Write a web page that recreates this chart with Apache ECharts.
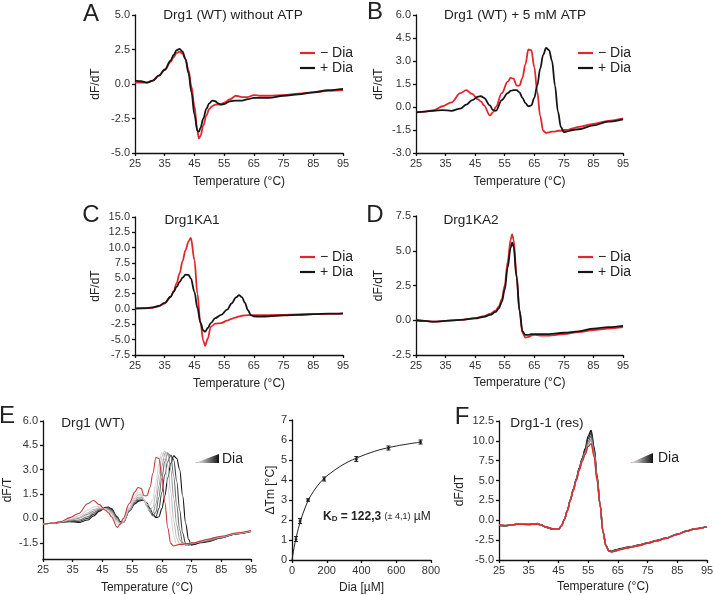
<!DOCTYPE html>
<html><head><meta charset="utf-8">
<script src="https://cdn.jsdelivr.net/npm/echarts@6.0.0/dist/echarts.min.js"></script>
<style>html,body{margin:0;padding:0;background:#fff}#c{width:713px;height:595px}</style>
</head><body><div id="c"></div>
<script>
// ---------- data ----------
const tempTicks = [25,35,45,55,65,75,85,95];
const eTicksY = [-1.5,0,1.5,3,4.5,6];

const tempA = [25,27,29,31,33,35,37,38,39,40,41,42,43,44,45,46,46.5,47,48,49,50,51,52,53,54,55,57,59,61,63,65,67,70,75,80,85,90,95];
const aMinus = [0.1,0.1,0.1,0.25,0.6,1.0,1.6,1.95,2.25,2.35,2.2,1.8,1.0,-0.2,-1.6,-3.4,-3.95,-3.8,-3.0,-2.3,-1.8,-1.6,-1.5,-1.5,-1.45,-1.35,-1.1,-0.85,-0.95,-0.95,-0.8,-0.85,-0.85,-0.8,-0.7,-0.6,-0.5,-0.45];
const aPlus = [0.25,0.2,0.1,0.25,0.6,1.05,1.7,2.1,2.45,2.55,2.35,1.8,0.8,-0.6,-2.2,-3.4,-3.45,-3.2,-2.5,-1.8,-1.4,-1.2,-1.25,-1.4,-1.5,-1.45,-1.25,-1.2,-1.2,-1.1,-1.0,-1.0,-1.0,-0.85,-0.75,-0.6,-0.45,-0.35];

const tempE = [25,28,31,34,37,40,42,44,46,47,48,50,51,52,54,56,57,58,59,60,61,62,63,64,65,66,67,68,69,70,71,72,73,74,75,76,78,80,85,90,95];
const eRed = [-0.35,-0.3,-0.2,0.05,0.3,0.9,1.1,0.85,0.5,0.35,0.1,-0.55,-0.35,0.0,0.9,1.65,1.9,1.85,1.4,1.4,1.9,2.8,3.75,3.7,2.6,1.0,-0.6,-1.55,-1.7,-1.65,-1.6,-1.6,-1.55,-1.55,-1.5,-1.5,-1.4,-1.3,-1.1,-0.9,-0.75];
const eG1 = [-0.35,-0.3,-0.2,0.0,0.15,0.5,0.7,0.75,0.55,0.4,0.2,-0.35,-0.35,-0.1,0.7,1.4,1.6,1.55,1.2,0.85,0.8,1.2,2.2,3.4,4.05,3.6,2.0,0.2,-1.1,-1.6,-1.6,-1.6,-1.55,-1.55,-1.5,-1.5,-1.4,-1.3,-1.1,-0.9,-0.75];
const eG2 = [-0.35,-0.3,-0.2,-0.05,0.05,0.35,0.55,0.65,0.6,0.5,0.3,-0.2,-0.35,-0.2,0.6,1.25,1.45,1.45,1.15,0.7,0.5,0.7,1.5,2.7,3.8,4.15,3.3,1.6,-0.2,-1.2,-1.6,-1.6,-1.55,-1.55,-1.5,-1.5,-1.42,-1.32,-1.12,-0.92,-0.77];
const eG3 = [-0.35,-0.3,-0.22,-0.1,0.0,0.25,0.45,0.6,0.6,0.55,0.4,-0.1,-0.3,-0.25,0.5,1.1,1.3,1.3,1.15,0.75,0.4,0.35,0.9,2.0,3.2,4.0,4.05,3.0,1.2,-0.4,-1.3,-1.6,-1.6,-1.55,-1.5,-1.5,-1.43,-1.35,-1.15,-0.92,-0.78];
const eG4 = [-0.35,-0.3,-0.23,-0.15,-0.1,0.1,0.35,0.55,0.62,0.6,0.48,0.0,-0.25,-0.25,0.45,1.0,1.2,1.2,1.1,0.8,0.4,0.15,0.4,1.3,2.5,3.5,4.0,3.85,2.6,0.8,-0.7,-1.5,-1.65,-1.6,-1.55,-1.5,-1.45,-1.38,-1.17,-0.94,-0.79];
const eG5 = [-0.35,-0.3,-0.24,-0.18,-0.18,0.0,0.25,0.5,0.65,0.65,0.55,0.05,-0.22,-0.25,0.45,0.95,1.1,1.15,1.1,0.9,0.5,0.2,0.1,0.6,1.6,2.7,3.5,3.9,3.6,2.3,0.5,-0.9,-1.55,-1.65,-1.6,-1.55,-1.48,-1.42,-1.19,-0.95,-0.8];
const eBlack = [-0.35,-0.3,-0.25,-0.2,-0.25,-0.1,0.15,0.45,0.68,0.7,0.6,0.1,-0.2,-0.25,0.45,0.9,1.05,1.1,1.1,0.95,0.6,0.25,0.05,0.1,0.6,1.4,2.5,3.4,3.85,3.7,3.0,1.4,-0.3,-1.3,-1.65,-1.6,-1.5,-1.45,-1.2,-0.95,-0.8];

const tempC = [25,28,31,33,35,37,38,39,40,41,42,43,43.8,45,46,47,48,48.6,49.5,50.5,52,54,56,57.5,59,60,61,62,63,64,65,67,70,75,80,85,90,95];
const cMinus = [0.05,0.1,0.2,0.45,0.9,2.0,2.9,4.2,5.8,7.8,9.6,11.0,11.6,8.0,2.5,-2.2,-5.2,-6.0,-4.8,-2.9,-2.4,-2.3,-1.9,-1.6,-1.35,-1.2,-1.1,-1.05,-1.0,-1.0,-1.0,-1.0,-1.0,-0.95,-0.9,-0.85,-0.8,-0.75];
const cPlus = [0.1,0.15,0.25,0.5,1.0,2.0,2.8,3.6,4.4,5.1,5.6,5.55,5.0,2.8,0.2,-2.2,-3.5,-3.7,-3.1,-2.3,-1.5,-0.95,-0.1,0.9,1.9,2.25,1.95,1.0,-0.2,-1.0,-1.2,-1.25,-1.2,-1.05,-0.95,-0.85,-0.75,-0.7];

const tempD = [25,28,31,35,40,45,48,50,52,53,54,55,56,57,57.5,58,59,60,61,62,63,64,65,67,70,75,80,85,90,95];
const dMinus = [0.0,-0.05,-0.1,-0.05,0.02,0.15,0.3,0.45,0.7,1.0,1.5,2.5,4.2,5.8,6.2,5.8,3.3,0.7,-0.9,-1.25,-1.2,-1.1,-1.05,-1.1,-1.1,-1.0,-0.85,-0.7,-0.6,-0.5];
const dPlus = [0.0,-0.05,-0.1,-0.05,0.02,0.13,0.25,0.38,0.6,0.85,1.3,2.2,3.8,5.2,5.6,5.3,3.1,0.7,-0.8,-1.05,-1.05,-1.0,-1.0,-1.0,-1.0,-0.9,-0.8,-0.6,-0.5,-0.4];

const tempF = [25,27,29,31,33,35,37,38,39,41,43,45,46,47,48,49,50,51,52,53,54,55,56,57,58,59,60,61,62,63,64,66,68,70,72,75,78,81,85,88,91,95];
const fRed = [-0.55,-0.65,-0.6,-0.5,-0.5,-0.5,-0.5,-0.5,-0.6,-0.85,-1.05,-1.1,-0.7,0.1,1.2,2.5,3.7,5.0,6.3,7.4,8.3,9.3,9.65,8.0,5.0,2.0,-1.4,-3.2,-3.9,-4.0,-3.9,-3.7,-3.5,-3.35,-3.2,-2.9,-2.6,-2.3,-1.8,-1.4,-1.1,-0.8];
const fG3 = [-0.58,-0.66,-0.6,-0.5,-0.5,-0.51,-0.49,-0.47,-0.59,-0.86,-1.06,-1.11,-0.71,0.1,1.2,2.5,3.75,5.05,6.35,7.5,8.45,9.6,10.2,8.4,5.2,2.0,-1.42,-3.2,-3.89,-3.98,-3.86,-3.66,-3.48,-3.34,-3.18,-2.89,-2.59,-2.29,-1.79,-1.39,-1.09,-0.8];
const fG2 = [-0.6,-0.67,-0.6,-0.5,-0.5,-0.52,-0.48,-0.45,-0.58,-0.87,-1.07,-1.12,-0.72,0.1,1.2,2.55,3.8,5.1,6.4,7.6,8.6,9.9,10.6,8.7,5.3,2.0,-1.45,-3.2,-3.88,-3.96,-3.82,-3.63,-3.46,-3.32,-3.15,-2.88,-2.58,-2.28,-1.78,-1.38,-1.08,-0.8];
const fG1 = [-0.62,-0.68,-0.6,-0.5,-0.5,-0.53,-0.47,-0.43,-0.57,-0.88,-1.08,-1.13,-0.73,0.1,1.2,2.55,3.85,5.15,6.5,7.7,8.8,10.3,11.0,9.0,5.5,2.0,-1.5,-3.2,-3.87,-3.93,-3.78,-3.6,-3.43,-3.3,-3.12,-2.86,-2.56,-2.26,-1.76,-1.36,-1.06,-0.8];
const fBlack = [-0.65,-0.7,-0.6,-0.5,-0.5,-0.55,-0.45,-0.4,-0.55,-0.9,-1.1,-1.15,-0.75,0.1,1.2,2.6,3.9,5.2,6.6,7.8,9.0,10.6,11.3,9.2,5.6,2.0,-1.5,-3.2,-3.85,-3.9,-3.75,-3.55,-3.4,-3.3,-3.1,-2.85,-2.55,-2.25,-1.75,-1.35,-1.05,-0.8];

const kdConc = [23.1,46.3,92.5,185,370,555,740];
const kdDeltaTm = [1.05,1.95,3.0,4.05,5.05,5.6,5.9];
const kdErr = [0.12,0.12,0.06,0.1,0.12,0.1,0.1];
const fitConc = [0,5,12,25,50,75,100,150,200,300,400,500,600,740];
const fitDeltaTm = [0,0.27,0.62,1.17,1.99,2.6,3.1,3.75,4.2,4.8,5.2,5.5,5.7,5.9];

// ---------- helpers ----------
const FONT = 'Liberation Sans, Arial, sans-serif';
const RED = '#e3262c', BLK = '#151515';
function pairs(t, v){ return t.map((x,i)=>[x, v[i]]); }
function axisBase(){
  return {
    type:'value',
    splitLine:{show:false},
    axisLine:{show:true,onZero:false,lineStyle:{color:'#111',width:1.3}},
    axisTick:{show:true,inside:false,length:3,lineStyle:{color:'#111',width:1.3}},
    axisLabel:{color:'#333',fontSize:11,margin:5,fontFamily:FONT},
    nameLocation:'middle',
    nameTextStyle:{color:'#222',fontSize:12,fontFamily:FONT}
  };
}
function tempAxis(g, gap){
  const a = axisBase();
  a.gridIndex = g; a.min = 25; a.max = 95;
  a.name = 'Temperature (°C)'; a.nameGap = gap;
  a.axisTick.customValues = tempTicks;
  a.axisLabel.customValues = tempTicks;
  return a;
}
function valAxis(g, min, max, interval, name, gap, dec){
  const a = axisBase();
  a.gridIndex = g; a.min = min; a.max = max; a.interval = interval;
  a.name = name; a.nameGap = gap;
  a.axisLabel.formatter = v => v.toFixed(dec);
  return a;
}
function line(name, t, v, idx, color, width, z){
  return {type:'line', name, xAxisIndex:idx, yAxisIndex:idx, data:pairs(t,v),
    symbol:'none', smooth:0.35, smoothMonotone:'x', silent:true, z:z||2,
    lineStyle:{color, width}, itemStyle:{color}, emphasis:{disabled:true}};
}
function legendAt(left, top){
  return {left, top, orient:'vertical', icon:'rect', itemWidth:15, itemHeight:2.2,
    itemGap:1, selectedMode:false, data:['− Dia','+ Dia'],
    textStyle:{fontSize:14, color:'#222', fontFamily:FONT, padding:[0,0,0,0]}};
}
function txt(x, y, text, size, align){
  return {type:'text', silent:true, style:{x, y, text, font: size+'px '+FONT, fill:'#222',
    textAlign:align||'center', textVerticalAlign:'middle'}};
}
function wedge(x0, x1, yTop, yBot){
  return {type:'polygon', silent:true, shape:{points:[[x0,yBot],[x1,yTop],[x1,yBot]]},
    style:{fill:new echarts.graphic.LinearGradient(0,0,1,0,[
      {offset:0,color:'#d8262c'},{offset:0.12,color:'#e8c8c8'},{offset:0.3,color:'#bdbdbd'},{offset:1,color:'#111'}])}};
}

const grids = [
  {left:135, top:15, width:208, height:138},
  {left:416, top:15, width:207, height:138},
  {left:135, top:217, width:208, height:138},
  {left:416, top:216, width:207, height:139},
  {left:43, top:421, width:208, height:138},
  {left:292, top:420, width:139, height:140},
  {left:499, top:421, width:208, height:139}
].map(g => Object.assign(g, {containLabel:false, outerBoundsMode:'none'}));

const xAxes = [
  tempAxis(0, 23), tempAxis(1, 23), tempAxis(2, 23), tempAxis(3, 22), tempAxis(4, 23),
  valAxis(5, 0, 800, 200, 'Dia [µM]', 22, 0),
  tempAxis(6, 21)
];
const yE = valAxis(4, -2.5, 6, 1.5, 'dF/T', 29, 1);
yE.axisTick.customValues = eTicksY; yE.axisLabel.customValues = eTicksY;
const yAxes = [
  valAxis(0, -5, 5, 2.5, 'dF/dT', 33, 1),
  valAxis(1, -3, 6, 1.5, 'dF/dT', 31, 1),
  valAxis(2, -7.5, 15, 2.5, 'dF/dT', 33, 1),
  valAxis(3, -2.5, 7.5, 2.5, 'dF/dT', 31, 1),
  yE,
  valAxis(5, 0, 7, 1, 'ΔTm [°C]', 10, 0),
  valAxis(6, -5, 12.5, 2.5, 'dF/dT', 33, 1)
];

const series = [
  line('− Dia', tempA, aMinus, 0, RED, 1.8, 2),
  line('+ Dia', tempA, aPlus, 0, BLK, 1.8, 3),
  line('− Dia', tempE, eRed, 1, RED, 1.8, 2),
  line('+ Dia', tempE, eBlack, 1, BLK, 1.8, 3),
  line('− Dia', tempC, cMinus, 2, RED, 1.8, 2),
  line('+ Dia', tempC, cPlus, 2, BLK, 1.8, 3),
  line('− Dia', tempD, dMinus, 3, RED, 1.8, 2),
  line('+ Dia', tempD, dPlus, 3, BLK, 1.8, 3),
  line('E6', tempE, eBlack, 4, '#111', 1.1, 2),
  line('E5', tempE, eG5, 4, '#3e3e3e', 1.1, 2),
  line('E4', tempE, eG4, 4, '#6e6e6e', 1.1, 2),
  line('E3', tempE, eG3, 4, '#9a9a9a', 1.1, 2),
  line('E2', tempE, eG2, 4, '#bdbdbd', 1.1, 2),
  line('E1', tempE, eG1, 4, '#d6d6d6', 1.1, 2),
  line('E0', tempE, eRed, 4, '#c8343a', 1.1, 3),
  {type:'line', name:'fit', xAxisIndex:5, yAxisIndex:5, data:pairs(fitConc, fitDeltaTm),
    symbol:'none', smooth:0.3, silent:true, lineStyle:{color:'#222', width:1}},
  {type:'custom', name:'err', xAxisIndex:5, yAxisIndex:5, silent:true,
    data: kdConc.map((c,i)=>[c, kdDeltaTm[i]-kdErr[i], kdDeltaTm[i]+kdErr[i]]),
    encode:{x:0, y:[1,2]},
    renderItem:(params, api)=>{
      const lo = api.coord([api.value(0), api.value(1)]);
      const hi = api.coord([api.value(0), api.value(2)]);
      const w = 2, st = {stroke:'#111', lineWidth:1};
      return {type:'group', children:[
        {type:'line', shape:{x1:lo[0],y1:lo[1],x2:hi[0],y2:hi[1]}, style:st},
        {type:'line', shape:{x1:lo[0]-w,y1:lo[1],x2:lo[0]+w,y2:lo[1]}, style:st},
        {type:'line', shape:{x1:hi[0]-w,y1:hi[1],x2:hi[0]+w,y2:hi[1]}, style:st}
      ]};
    }},
  {type:'scatter', name:'pts', xAxisIndex:5, yAxisIndex:5, data:pairs(kdConc, kdDeltaTm),
    symbol:'circle', symbolSize:3, silent:true, itemStyle:{color:'#111'}},
  line('F0', tempF, fBlack, 6, '#111', 1.4, 2),
  line('F1', tempF, fG1, 6, '#333', 1.4, 2),
  line('F2', tempF, fG2, 6, '#666', 1.4, 2),
  line('F3', tempF, fG3, 6, '#999', 1.4, 2),
  line('F4', tempF, fRed, 6, '#e0282c', 1.4, 3)
];

const graphic = [
  txt(91, 14, 'A', 24), txt(375, 12, 'B', 24), txt(91, 215, 'C', 24), txt(375, 215, 'D', 24),
  txt(7, 416, 'E', 24), txt(462, 417, 'F', 24),
  txt(233, 15, 'Drg1 (WT) without ATP', 13.6), txt(515, 15, 'Drg1 (WT) + 5 mM ATP', 13.6),
  txt(192, 220, 'Drg1KA1', 13.6), txt(471, 220, 'Drg1KA2', 13.6),
  txt(93, 423, 'Drg1 (WT)', 13.6), txt(547, 423, 'Drg1-1 (res)', 13.6),
  wedge(195, 219, 454, 463), txt(222, 459, 'Dia', 14, 'left'),
  wedge(630, 653, 453, 463), txt(658, 458, 'Dia', 14, 'left'),
  {type:'text', silent:true, style:{x:323, y:517, textVerticalAlign:'middle', textAlign:'left',
    text:'{b|K}{s|D}{b| = 122,3 }{n|(± 4,1)}{m| µM}',
    rich:{
      b:{font:'bold 12px '+FONT, fill:'#222'},
      s:{font:'bold 8px '+FONT, fill:'#222', verticalAlign:'bottom'},
      n:{font:'9px '+FONT, fill:'#222'},
      m:{font:'12px '+FONT, fill:'#222'}
    }}}
];

const chart = echarts.init(document.getElementById('c'), null, {renderer:'canvas'});
chart.setOption({
  animation:false,
  backgroundColor:'#fff',
  grid:grids, xAxis:xAxes, yAxis:yAxes, series,
  legend:[legendAt(295, 41), legendAt(573, 41), legendAt(295, 245), legendAt(573, 245)],
  graphic
});
</script></body></html>
